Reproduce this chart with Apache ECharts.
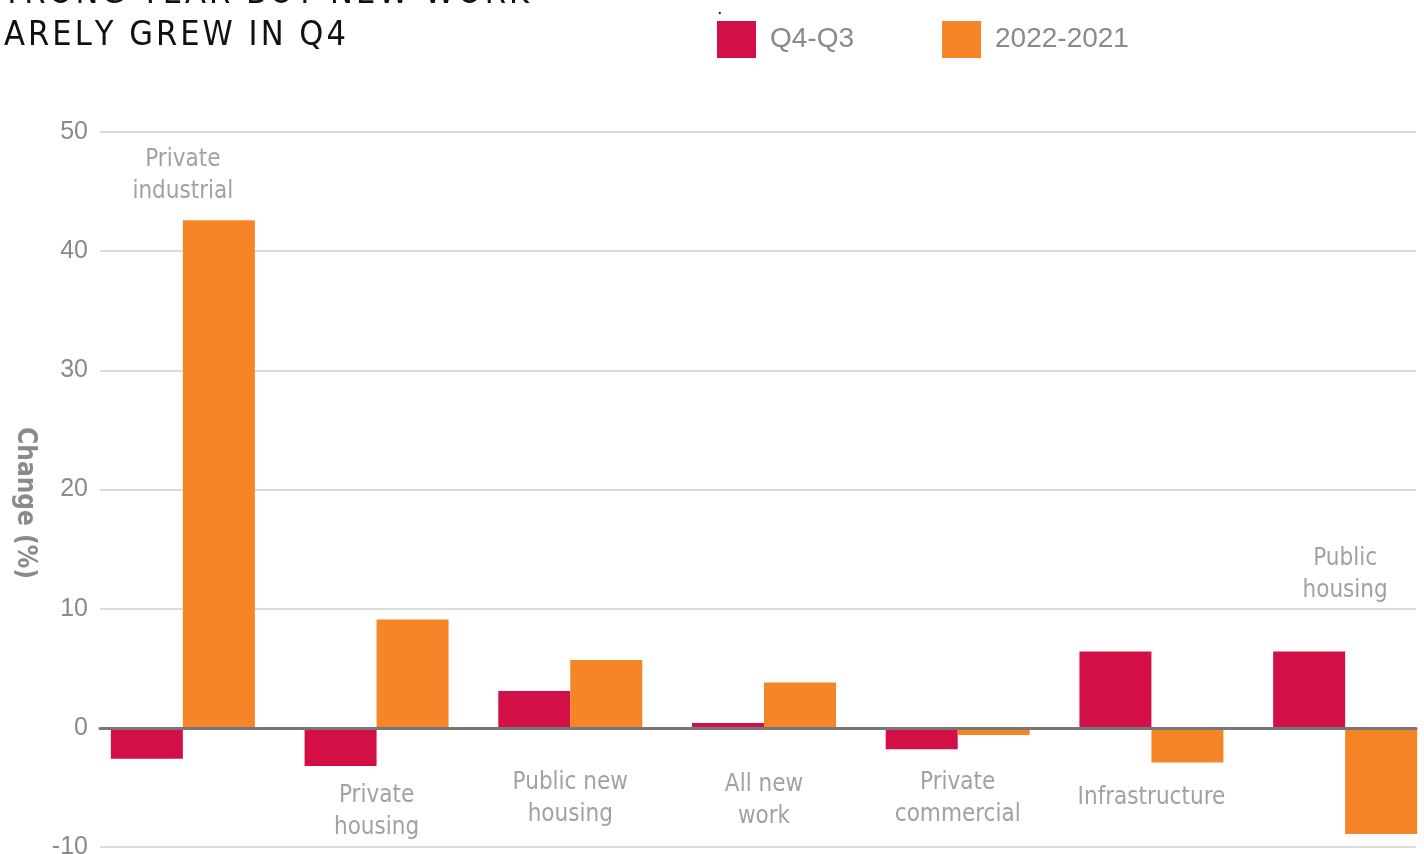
<!DOCTYPE html>
<html>
<head>
<meta charset="utf-8">
<script src="https://cdn.jsdelivr.net/npm/echarts@6/dist/echarts.min.js"></script>
<style>
html, body { margin: 0; padding: 0; background: #fff; }
#chart { width: 1424px; height: 854px; }
</style>
</head>
<body>
<div id="chart"></div>
<script>
var categories = ['Private industrial', 'Private housing', 'Public new housing', 'All new work',
  'Private commercial', 'Infrastructure', 'Public housing'];
var labelText = ['Private\nindustrial', 'Private\nhousing', 'Public new\nhousing', 'All new\nwork',
  'Private\ncommercial', 'Infrastructure', 'Public\nhousing'];
// where each category name sits, in % units of the y axis
var labelY = [46.35, -7.05, -5.95, -6.15, -5.95, -5.85, 12.85];
var quarterChange = [-2.6, -3.2, 3.1, 0.4, -1.8, 6.4, 6.4];
var yearChange = [42.6, 9.1, 5.7, 3.8, -0.6, -2.9, -8.9];
var seriesNames = ['Q4-Q3', '2022-2021'];
var yTicks = { min: -10, max: 50, interval: 10 };

var RED = '#d20f46', ORANGE = '#f58527', GREY = '#8a8a8a';
var NARROW = "'Liberation Sans Narrow', 'DejaVu Sans Condensed', sans-serif";

function spaced(s) {
  return s.split('').join('\u200a');
}

var myChart = echarts.init(document.getElementById('chart'));
var option = {
  animation: false,
  backgroundColor: '#fff',
  legend: {
    left: 717, top: 21, padding: 0,
    icon: 'rect',
    itemWidth: 39, itemHeight: 37, itemGap: 88,
    textStyle: { fontSize: 28, color: GREY, fontFamily: 'Liberation Sans, sans-serif', padding: [2, 0, 0, 9] },
    data: seriesNames
  },
  graphic: [
    { type: 'text', left: -20, top: -23, style: { text: spaced('STRONG YEAR BUT NEW WORK'), font: '34px ' + NARROW, fill: '#111' } },
    { type: 'text', left: -20, top: 19, style: { text: spaced('BARELY GREW IN Q4'), font: '34px ' + NARROW, fill: '#111' } },
    { type: 'text', left: 717, top: -2, style: { text: '.', font: '20px sans-serif', fill: '#222' } },
    { type: 'text', x: 25, y: 503, rotation: -Math.PI / 2,
      style: { text: 'Change (%)', font: 'bold 26px ' + NARROW, fill: GREY, align: 'center', verticalAlign: 'middle' } }
  ],
  grid: [
    { left: 100, right: 8, top: 132, bottom: 7, outerBoundsMode: 'none' },
    { left: 86, width: 1356, top: 132, bottom: 7, outerBoundsMode: 'none' }
  ],
  xAxis: [
    { type: 'category', gridIndex: 0, data: categories, z: 5,
      axisLine: { onZero: true, lineStyle: { color: '#777', width: 3 } },
      axisTick: { show: false }, axisLabel: { show: false } },
    { type: 'category', gridIndex: 1, data: categories, show: false }
  ],
  yAxis: [
    { type: 'value', gridIndex: 0, min: yTicks.min, max: yTicks.max, interval: yTicks.interval,
      axisLine: { show: false }, axisTick: { show: false },
      axisLabel: { fontSize: 25, color: GREY, margin: 12, fontFamily: 'Liberation Sans, sans-serif' },
      splitLine: { lineStyle: { color: '#d0d0d0', width: 1.5 } } },
    { type: 'value', gridIndex: 1, min: yTicks.min, max: yTicks.max, interval: yTicks.interval, show: false }
  ],
  series: [
    { name: seriesNames[0], type: 'bar', xAxisIndex: 1, yAxisIndex: 1, barWidth: 72, barGap: '0%',
      itemStyle: { color: RED }, data: quarterChange },
    { name: seriesNames[1], type: 'bar', xAxisIndex: 1, yAxisIndex: 1, barWidth: 72, barGap: '0%',
      itemStyle: { color: ORANGE }, data: yearChange },
    { name: 'labels', type: 'scatter', xAxisIndex: 1, yAxisIndex: 1, symbolSize: 0, silent: true,
      label: { show: true, position: 'inside', fontSize: 24, lineHeight: 32, color: GREY, fontFamily: NARROW,
        formatter: function (p) { return labelText[p.dataIndex]; } },
      data: labelY.map(function (v, i) { return [i, v]; }) }
  ]
};
myChart.setOption(option);
</script>
</body>
</html>
